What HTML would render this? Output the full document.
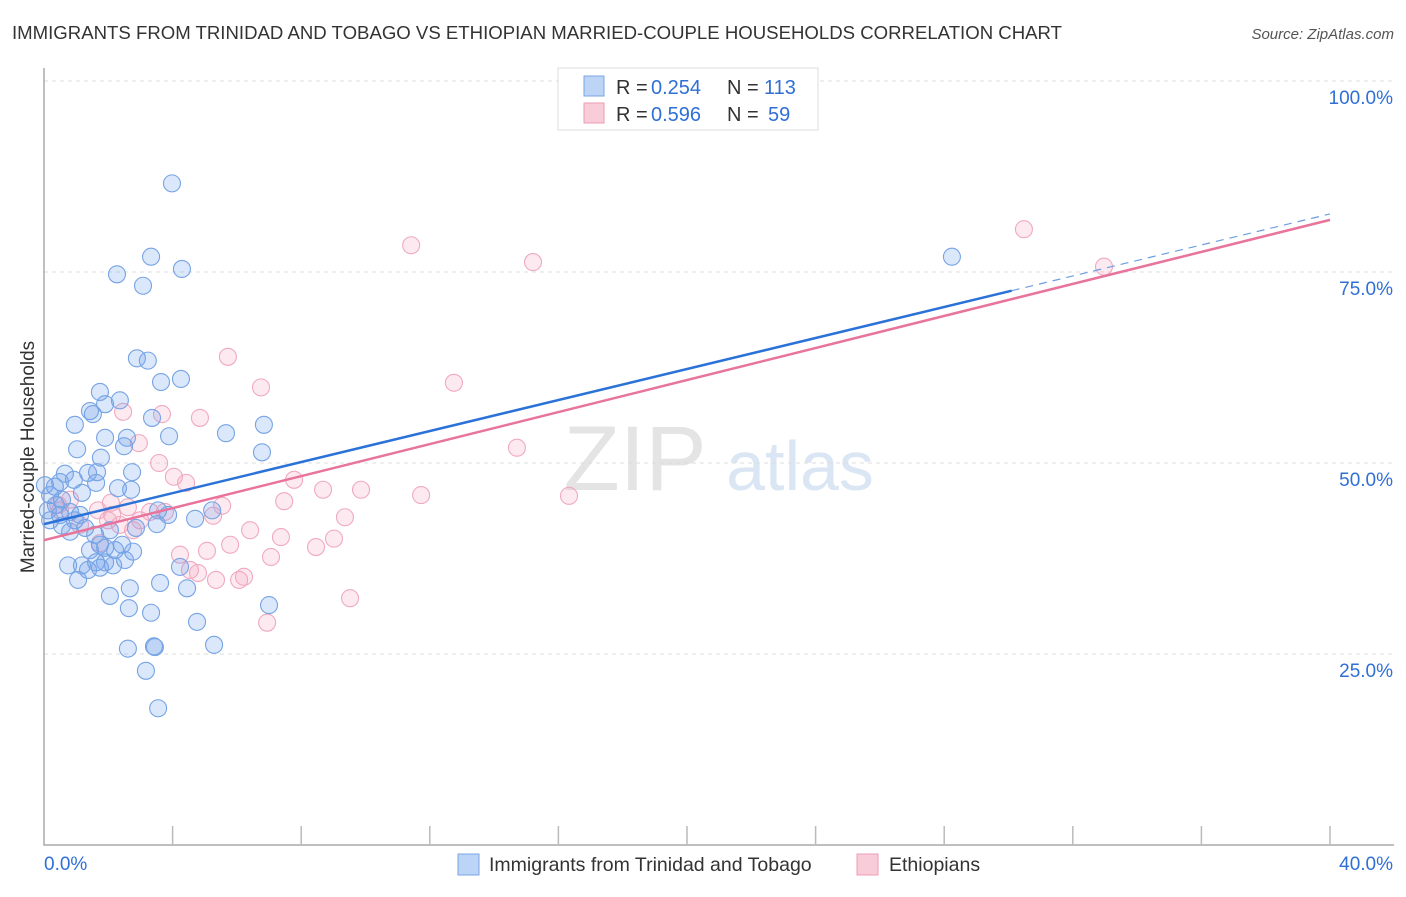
<!DOCTYPE html>
<html><head><meta charset="utf-8"><style>
body{margin:0;background:#fff;font-family:"Liberation Sans",sans-serif}
svg text{font-family:"Liberation Sans",sans-serif}
</style></head><body>
<svg id="c" width="1406" height="892" xmlns="http://www.w3.org/2000/svg">
<text x="12" y="39" font-size="18.6" fill="#333">IMMIGRANTS FROM TRINIDAD AND TOBAGO VS ETHIOPIAN MARRIED-COUPLE HOUSEHOLDS CORRELATION CHART</text>
<text x="1394" y="39" font-size="15" fill="#555" font-style="italic" text-anchor="end">Source: ZipAtlas.com</text>
<text x="34" y="457" font-size="19" fill="#333" text-anchor="middle" transform="rotate(-90 34 457)">Married-couple Households</text>
<g><text x="635" y="490" font-size="92" fill="#e4e4e4" font-family="Liberation Serif" text-anchor="middle">ZIP</text><text x="800" y="490" font-size="70" fill="#dbe6f5" text-anchor="middle">atlas</text></g>
<g id="grid"></g><g id="axes"></g><g id="pts"></g><g id="lines"></g>
<g>
<rect x="558" y="68" width="260" height="62" fill="#fff" stroke="#ddd"/>
<rect x="584" y="76" width="20" height="20" fill="#bcd4f5" stroke="#7aa6e6"/>
<text x="616" y="94" font-size="20" fill="#333">R =</text>
<text x="651" y="94" font-size="20" fill="#2f6fd6">0.254</text>
<text x="727" y="94" font-size="20" fill="#333">N =</text>
<text x="764" y="94" font-size="20" fill="#2f6fd6">113</text>
<rect x="584" y="103" width="20" height="20" fill="#f9ccd9" stroke="#ee9db6"/>
<text x="616" y="121" font-size="20" fill="#333">R =</text>
<text x="651" y="121" font-size="20" fill="#2f6fd6">0.596</text>
<text x="727" y="121" font-size="20" fill="#333">N =</text>
<text x="768" y="121" font-size="20" fill="#2f6fd6">59</text>
</g>
<g>
<rect x="458" y="854" width="21" height="21" fill="#bcd4f5" stroke="#7aa6e6"/>
<text x="489" y="871" font-size="19.5" fill="#333">Immigrants from Trinidad and Tobago</text>
<rect x="857" y="854" width="21" height="21" fill="#f9ccd9" stroke="#ee9db6"/>
<text x="889" y="871" font-size="19.5" fill="#333">Ethiopians</text>
</g>
</svg>
<script>
const xTicks=[0,4,8,12,16,20,24,28,32,36,40];
const yTicks=[25,50,75,100];
const yTickLabels=["25.0%","50.0%","75.0%","100.0%"];
const xEndLabels=["0.0%","40.0%"];
const blueX=[3.98,3.33,2.27,3.08,4.29,28.24,2.89,3.23,4.26,3.64,1.74,2.36,1.90,1.43,1.52,3.36,6.84,0.96,3.89,5.66,1.90,2.58,2.49,1.03,6.78,1.77,2.74,0.65,1.37,1.65,0.93,2.30,1.62,2.71,1.18,0.34,0.19,0.56,0.37,0.12,0.50,0.81,1.12,0.96,3.55,3.86,4.70,5.23,2.86,3.51,1.28,0.56,0.81,1.59,2.05,2.43,1.74,1.43,2.21,2.77,0.75,1.18,1.62,1.90,1.37,1.74,2.15,1.06,4.23,3.61,4.45,2.05,2.67,2.64,3.33,7.00,4.76,2.61,3.45,3.42,5.29,3.17,3.55,0.03,0.19,0.50,1.90,2.52];
const blueY=[86.6,77.0,74.7,73.2,75.4,77.0,63.7,63.4,61.0,60.6,59.3,58.2,57.7,56.8,56.4,55.9,55.0,55.0,53.5,53.9,53.3,53.3,52.2,51.8,51.4,50.7,48.8,48.6,48.7,48.8,47.8,46.7,47.4,46.5,46.1,46.9,45.8,45.2,44.5,43.8,43.2,43.6,43.2,42.5,43.8,43.2,42.7,43.8,41.5,42.0,41.5,41.8,41.0,40.6,41.2,39.3,39.3,38.6,38.6,38.4,36.6,36.6,37.0,37.0,36.0,36.3,36.6,34.7,36.4,34.3,33.6,32.6,33.6,31.0,30.4,31.4,29.2,25.7,25.9,26.0,26.2,22.8,17.9,47.1,42.5,47.5,38.9,37.3];
const pinkX=[30.48,32.97,11.42,15.21,5.72,6.75,12.75,2.46,3.67,4.85,2.95,14.71,3.58,4.04,4.42,7.78,8.68,9.86,11.73,16.33,7.47,5.54,2.08,2.61,1.68,3.30,3.76,2.12,5.26,1.99,2.99,9.36,2.36,2.77,6.41,1.12,7.37,9.02,8.46,5.79,5.07,4.23,7.06,4.54,4.79,5.35,6.07,6.22,9.52,6.94,1.74,0.50,0.44,0.81];
const pinkY=[80.6,75.7,78.5,76.3,63.9,59.9,60.5,56.7,56.4,55.9,52.6,52.0,50.0,48.2,47.4,47.8,46.5,46.5,45.8,45.7,45.0,44.4,44.8,44.2,43.8,43.6,43.6,43.2,43.1,42.5,42.5,42.9,41.9,41.2,41.2,41.9,40.3,40.1,39.0,39.3,38.5,38.0,37.7,36.0,35.6,34.7,34.7,35.1,32.3,29.1,39.5,43.8,44.5,45.2];
const blueTrend=[42.0,1.015];
const pinkTrend=[39.9,1.048];
const blueSolidEnd=30.1;
const NS="http://www.w3.org/2000/svg";
const X=v=>44+v*32.15, Y=v=>845-v*7.64;
function mk(t,a,p){const e=document.createElementNS(NS,t);for(const k in a)e.setAttribute(k,a[k]);p.appendChild(e);return e;}
const grid=document.getElementById('grid'),axes=document.getElementById('axes'),pts=document.getElementById('pts'),lines=document.getElementById('lines');
yTicks.forEach((t,i)=>{
 const g=mk('line',{x1:44,x2:1394,y1:Y(t),y2:Y(t),stroke:'#ddd','stroke-dasharray':'4 4'},grid);
 
 
 const l=mk('text',{x:1393,y:Y(t)+23,'font-size':19,fill:'#2f6fd6','text-anchor':'end'},axes);l.textContent=yTickLabels[i];
 
 
});
const ax=mk('path',{d:`M44 68 V845 H1394`,fill:'none',stroke:'#aaa','stroke-width':1.5},axes);


xTicks.slice(1).forEach(t=>{const k=mk('line',{x1:X(t),x2:X(t),y1:826,y2:845,stroke:'#bbb','stroke-width':1.5},axes);
 
 });
const xl0=mk('text',{x:44,y:870,'font-size':19,fill:'#2f6fd6'},axes);xl0.textContent=xEndLabels[0];


const xl1=mk('text',{x:1393,y:870,'font-size':19,fill:'#2f6fd6','text-anchor':'end'},axes);xl1.textContent=xEndLabels[1];


function dots(xs,ys,fill,stroke,name){xs.forEach((x,i)=>{const c=mk('circle',{cx:X(x),cy:Y(ys[i]),r:8.5,fill:fill,stroke:stroke,'stroke-width':1.1},pts);
 
 });}
dots(pinkX,pinkY,'rgba(244,160,188,0.22)','#f0a9bf','ethiopian-point');
dots(blueX,blueY,'rgba(110,160,235,0.25)','#76a4e4','trinidad-point');
const f=(tr,x)=>tr[0]+tr[1]*x;
const pl=mk('line',{x1:X(0),y1:Y(f(pinkTrend,0)),x2:X(40),y2:Y(f(pinkTrend,40)),stroke:'#e8739b','stroke-width':2.5},lines);


const bl=mk('line',{x1:X(0),y1:Y(f(blueTrend,0)),x2:X(blueSolidEnd),y2:Y(f(blueTrend,blueSolidEnd)),stroke:'#2b72d8','stroke-width':2.5},lines);


const bd=mk('line',{x1:X(blueSolidEnd),y1:Y(f(blueTrend,blueSolidEnd)),x2:X(40),y2:Y(f(blueTrend,40)),stroke:'#6d9ee3','stroke-width':1.2,'stroke-dasharray':'8 6'},lines);


</script>
</body></html>
